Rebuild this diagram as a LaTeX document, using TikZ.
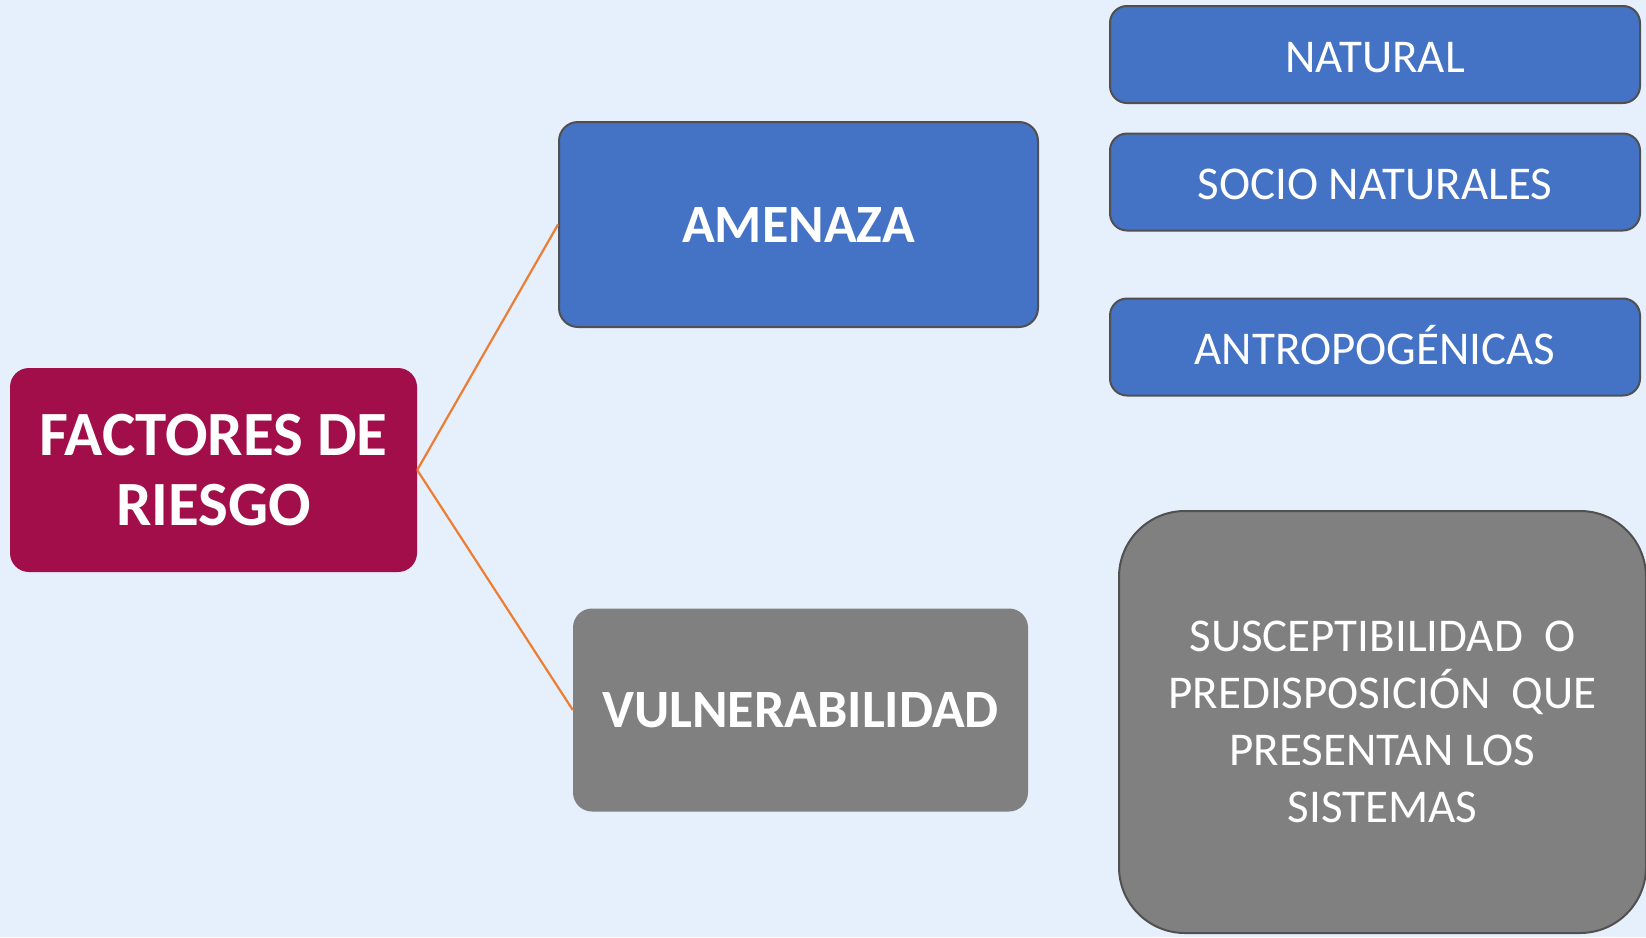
\documentclass[tikz,border=0pt]{standalone}
\usepackage{fontspec}
\setmainfont{Carlito}
\definecolor{bgblue}{HTML}{E6EFFC}
\definecolor{riskred}{HTML}{A20E49}
\definecolor{boxblue}{HTML}{4472C4}
\definecolor{boxgrey}{HTML}{808080}
\definecolor{edgegrey}{HTML}{505050}
\definecolor{linkorange}{HTML}{ED7D31}

\begin{document}
\begin{tikzpicture}
  [x=1pt,y=-1pt,
   box/.style={rounded corners=19pt,inner sep=0pt,align=center,text=white},
   title/.style={box,fill=riskred,minimum width=407pt,minimum height=204pt,
     font=\fontsize{63}{70}\selectfont\bfseries},
   factor/.style={box,minimum height=205pt,font=\fontsize{54}{60}\selectfont\bfseries},
   kind/.style={box,fill=boxblue,draw=edgegrey,line width=2pt,rounded corners=17pt,
     minimum width=530pt,minimum height=97pt,text height=35pt,text depth=0pt,
     font=\fontsize{47}{57}\selectfont},
   link/.style={draw=linkorange,line width=2.2pt}]
  \useasboundingbox (0,0) rectangle (1646,937);
  \fill[bgblue] (0,0) rectangle (1646,937);
  \node[title] (riesgo) at (213.5,470) {FACTORES DE\\RIESGO};
  \node[factor,fill=boxblue,draw=edgegrey,line width=2pt,minimum width=479pt] (amenaza) at (798.5,224.5) {AMENAZA};
  \node[factor,fill=boxgrey,minimum width=455pt,minimum height=203pt] (vulner) at (800.5,710) {VULNERABILIDAD};
  \node[kind] (natural) at (1375,54.5) {NATURAL};
  \node[kind] (socio) at (1375,182) {SOCIO NATURALES};
  \node[kind] (antropo) at (1375,347) {ANTROPOGÉNICAS};
  \node[box,fill=boxgrey,draw=edgegrey,line width=2pt,rounded corners=66pt,
    minimum width=527pt,minimum height=422pt,font=\fontsize{47}{57}\selectfont]
    (suscept) at (1382.5,722)
    {SUSCEPTIBILIDAD\ \ O\\PREDISPOSICIÓN\ \ QUE\\PRESENTAN LOS\\SISTEMAS};
  \foreach \from/\to in {riesgo/amenaza,riesgo/vulner}
    \draw[link] (\from.east) -- (\to.west);
\end{tikzpicture}
\end{document}
